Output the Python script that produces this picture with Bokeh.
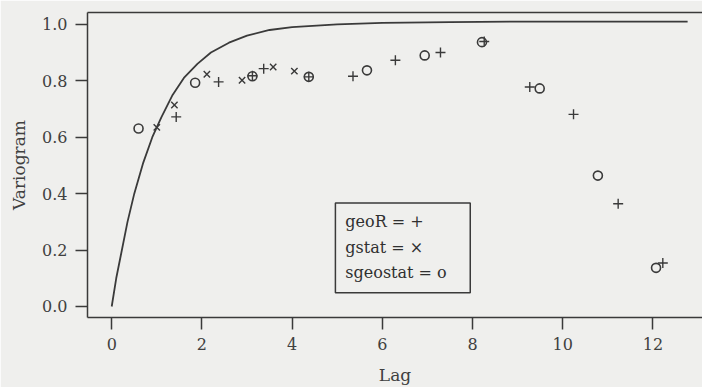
from bokeh.plotting import figure
from bokeh.models import Range1d, FixedTicker, PrintfTickFormatter, LinearAxis, BoxAnnotation, Label
from bokeh.embed import file_html
from bokeh.resources import INLINE

# Fitted model curve
curve_lag = [0, 0.1, 0.2, 0.35, 0.5, 0.7, 0.9, 1.1, 1.35, 1.6, 1.9, 2.2, 2.6, 3.0, 3.5, 4.0, 5.0, 6.0, 7.5, 9.0, 11.0, 12.77]
curve_val = [0, 0.10, 0.18, 0.30, 0.40, 0.51, 0.60, 0.67, 0.75, 0.81, 0.86, 0.90, 0.935, 0.96, 0.98, 0.99, 1.0, 1.005, 1.008, 1.01, 1.01, 1.01]

# geoR (+)
geor_lag = [1.43, 2.37, 3.12, 3.37, 4.37, 5.35, 6.29, 7.29, 8.26, 9.27, 10.24, 11.23, 12.22]
geor_val = [0.672, 0.796, 0.818, 0.843, 0.814, 0.816, 0.873, 0.900, 0.939, 0.778, 0.681, 0.364, 0.154]

# gstat (x)
gstat_lag = [1.00, 1.39, 2.11, 2.89, 3.58, 4.05]
gstat_val = [0.635, 0.714, 0.823, 0.802, 0.849, 0.834]

# sgeostat (o)
sgeo_lag = [0.595, 1.85, 3.12, 4.37, 5.66, 6.94, 8.21, 9.49, 10.78, 12.07]
sgeo_val = [0.631, 0.793, 0.816, 0.814, 0.837, 0.890, 0.937, 0.773, 0.464, 0.137]

x_ticks = [0, 2, 4, 6, 8, 10, 12]
y_ticks = [0.0, 0.2, 0.4, 0.6, 0.8, 1.0]
legend_lines = ["geoR = +", "gstat = \u00d7", "sgeostat = o"]

INK = "#3a3a3a"
BG = "#efefed"
FONT = "DejaVu Serif"

p = figure(width=702, height=387, output_backend="svg", toolbar_location=None,
           x_range=Range1d(-0.537, 13.1), y_range=Range1d(-0.039, 1.042),
           min_border_left=87, min_border_right=0, min_border_top=12, min_border_bottom=69)
p.background_fill_color = BG
p.border_fill_color = BG
p.outline_line_color = None
p.grid.visible = False

for ax in (p.xaxis[0], p.yaxis[0]):
    ax.axis_line_color = INK
    ax.axis_line_width = 1.5
    ax.major_tick_line_color = INK
    ax.major_tick_line_width = 1.5
    ax.major_tick_out = 12
    ax.major_tick_in = 0
    ax.minor_tick_line_color = None
    ax.major_label_text_font = FONT
    ax.major_label_text_font_size = "16px"
    ax.major_label_text_color = "#404040"
    ax.major_label_standoff = 8
    ax.axis_label_text_font = FONT
    ax.axis_label_text_font_style = "normal"
    ax.axis_label_text_font_size = "17px"
    ax.axis_label_text_color = "#404040"

p.xaxis.ticker = FixedTicker(ticks=x_ticks)
p.yaxis.ticker = FixedTicker(ticks=y_ticks)
p.yaxis.formatter = PrintfTickFormatter(format="%.1f")
p.yaxis.major_label_orientation = "horizontal"
p.yaxis.axis_label = "Variogram"
p.yaxis.axis_label_standoff = 10
p.xaxis.axis_label = "Lag"
p.xaxis.axis_label_standoff = 12

top = LinearAxis(ticker=FixedTicker(ticks=[]), axis_line_color=INK, axis_line_width=1.5,
                 major_tick_line_color=None, minor_tick_line_color=None,
                 major_label_text_font_size="0px")
p.add_layout(top, "above")

p.line(curve_lag, curve_val, line_color=INK, line_width=1.8)
p.scatter(geor_lag, geor_val, marker="cross", size=10, line_color=INK, line_width=1.4)
p.scatter(gstat_lag, gstat_val, marker="x", size=9, line_color=INK, line_width=1.4)
p.scatter(sgeo_lag, sgeo_val, marker="circle", size=9, fill_color=None, line_color=INK, line_width=1.6)

# legend box
p.add_layout(BoxAnnotation(left=4.96, right=7.95, bottom=0.049, top=0.367,
                           fill_color=None, fill_alpha=0, line_color=INK, line_alpha=1.0, line_width=1.5))
for txt, yy in zip(legend_lines, [0.300, 0.208, 0.120]):
    p.add_layout(Label(x=5.18, y=yy, text=txt, text_font=FONT, text_font_size="16px",
                       text_color="#303030", text_baseline="middle"))

open("out.html", "w").write(file_html(p, INLINE))
